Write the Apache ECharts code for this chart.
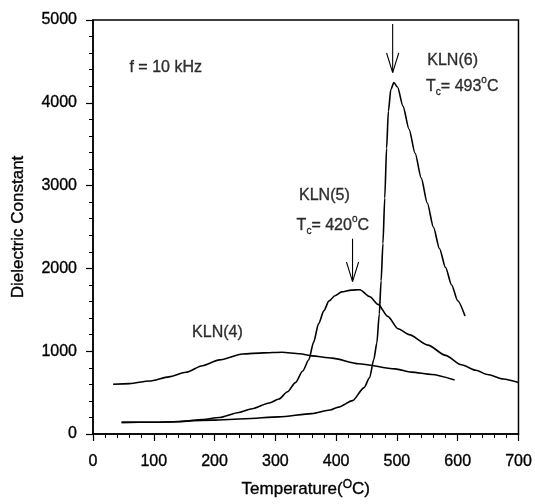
<!DOCTYPE html>
<html>
<head>
<meta charset="utf-8">
<script src="https://cdn.jsdelivr.net/npm/echarts@6/dist/echarts.min.js"></script>
<style>
  html, body { margin: 0; padding: 0; background: #fff; }
  #chart { width: 535px; height: 504px; }
</style>
</head>
<body>
<div id="chart"></div>
<script>
// KLN(4)
const temp4 = [33, 60, 93, 125, 153, 180, 208, 246, 280, 311, 340, 360, 393, 437, 497, 524, 557, 595]
const eps4 = [600, 608, 640, 690, 745, 825, 895, 967, 980, 987, 970, 943, 916, 849, 786, 747, 719, 652]
// KLN(5)
const temp5 = [47, 100, 142, 180, 208, 240, 262, 290, 306, 320, 333, 345, 355, 363, 371, 380, 388, 398, 409, 425, 439, 455, 469, 485, 502, 520, 551, 580, 606, 630, 649, 675, 700]
const eps5 = [140, 142, 148, 175, 199, 260, 305, 375, 423, 510, 621, 760, 896, 1110, 1330, 1490, 1605, 1670, 1716, 1738, 1743, 1660, 1566, 1420, 1271, 1200, 1073, 950, 837, 770, 719, 665, 621]
// KLN(6)
const temp6 = [47, 100, 197, 250, 306, 360, 390, 404, 427, 446, 455, 462, 467, 471, 474, 477, 480, 483, 486, 490, 495, 501, 510, 520, 530, 540, 550, 560, 570, 580, 590, 600, 612]
const eps6 = [140, 142, 167, 185, 207, 246, 290, 325, 403, 560, 680, 900, 1100, 1450, 1850, 2300, 2850, 3450, 3900, 4160, 4245, 4190, 3960, 3680, 3390, 3090, 2790, 2500, 2240, 2010, 1800, 1610, 1425]

// annotations
const noteText = ['f = 10 kHz', 'KLN(6)', '{t|T}{sub|c}{t|= 493}{sup|o}{t|C}', 'KLN(5)', '{t|T}{sub|c}{t|= 420}{sup|o}{t|C}', 'KLN(4)']
const noteX = [60, 550, 548, 339, 335, 163]
const noteY = [4430, 4510, 4200, 2877, 2520, 1230]

// Tc arrows
const arrowX = [493, 427]
const arrowTop = [4953, 2358]
const arrowTip = [4365, 1841]

const xTicks = {min: 0, max: 700, interval: 100}
const yTicks = {min: 0, max: 5000, interval: 1000}

const zip = (xs, ys) => xs.map((x, i) => [x, ys[i]])

const ink = '#000'
const font = 'Liberation Sans, Arial, sans-serif'
// scanned print looks a bit heavier than plain text
const heavy = {textBorderColor: ink, textBorderWidth: 0.35}

const curve = (data) => ({
  type: 'line',
  data,
  showSymbol: false,
  smooth: 0.25,
  smoothMonotone: 'x',
  lineStyle: {color: ink, width: 1.6},
  silent: true
})

const arrowSeries = []
arrowX.forEach((x, i) => {
  const headH = 236
  const headW = 10
  arrowSeries.push({
    type: 'line',
    data: [[x, arrowTop[i]], [x, arrowTip[i]]],
    showSymbol: false,
    lineStyle: {color: ink, width: 1.1},
    silent: true
  })
  arrowSeries.push({
    type: 'line',
    data: [[x - headW, arrowTip[i] + headH], [x, arrowTip[i]], [x + headW, arrowTip[i] + headH]],
    showSymbol: false,
    lineStyle: {color: ink, width: 1.1},
    silent: true
  })
})

const chart = echarts.init(document.getElementById('chart'))
chart.setOption({
  animation: false,
  grid: {
    left: 93,
    top: 20,
    width: 428,
    height: 423,
    show: true,
    borderColor: ink,
    borderWidth: 1.5
  },
  xAxis: {
    type: 'value',
    ...xTicks,
    name: 'Temperature({sup|O}C)',
    nameLocation: 'middle',
    nameGap: 45,
    nameTextStyle: {
      color: ink, fontSize: 17, fontFamily: font, lineHeight: 20, ...heavy,
      rich: {sup: {fontSize: 12, fontFamily: font, color: ink, verticalAlign: 'top', lineHeight: 12, ...heavy}}
    },
    axisLine: {lineStyle: {color: ink, width: 1.5}},
    axisTick: {inside: false, length: 7, lineStyle: {color: ink, width: 1.2}},
    minorTick: {show: true, splitNumber: 5, length: 4, lineStyle: {color: ink, width: 1}},
    axisLabel: {color: ink, fontSize: 16, fontFamily: font, margin: 20, ...heavy},
    splitLine: {show: false}
  },
  yAxis: {
    type: 'value',
    ...yTicks,
    name: 'Dielectric Constant',
    nameLocation: 'middle',
    nameGap: 66,
    nameTextStyle: {color: ink, fontSize: 17, fontFamily: font, ...heavy},
    axisLine: {lineStyle: {color: ink, width: 1.5}},
    axisTick: {inside: false, length: 7, lineStyle: {color: ink, width: 1.2}},
    minorTick: {show: true, splitNumber: 5, length: 4, lineStyle: {color: ink, width: 1}},
    axisLabel: {color: ink, fontSize: 16, fontFamily: font, margin: 16, formatter: (v) => String(v), ...heavy},
    splitLine: {show: false}
  },
  series: [
    curve(zip(temp4, eps4)),
    curve(zip(temp5, eps5)),
    curve(zip(temp6, eps6)),
    ...arrowSeries,
    {
      type: 'scatter',
      symbolSize: 0,
      silent: true,
      data: noteText.map((t, i) => ({value: [noteX[i], noteY[i]], label: {formatter: t}})),
      label: {
        show: true,
        position: 'right',
        distance: 0,
        color: ink,
        fontSize: 16,
        fontFamily: font,
        lineHeight: 22,
        ...heavy,
        rich: {
          t: {fontSize: 16, fontFamily: font, color: ink, lineHeight: 22, ...heavy},
          sub: {fontSize: 10, fontFamily: font, color: ink, verticalAlign: 'bottom', lineHeight: 10, ...heavy},
          sup: {fontSize: 10, fontFamily: font, color: ink, verticalAlign: 'top', lineHeight: 12, ...heavy}
        }
      }
    }
  ]
})
</script>
</body>
</html>
